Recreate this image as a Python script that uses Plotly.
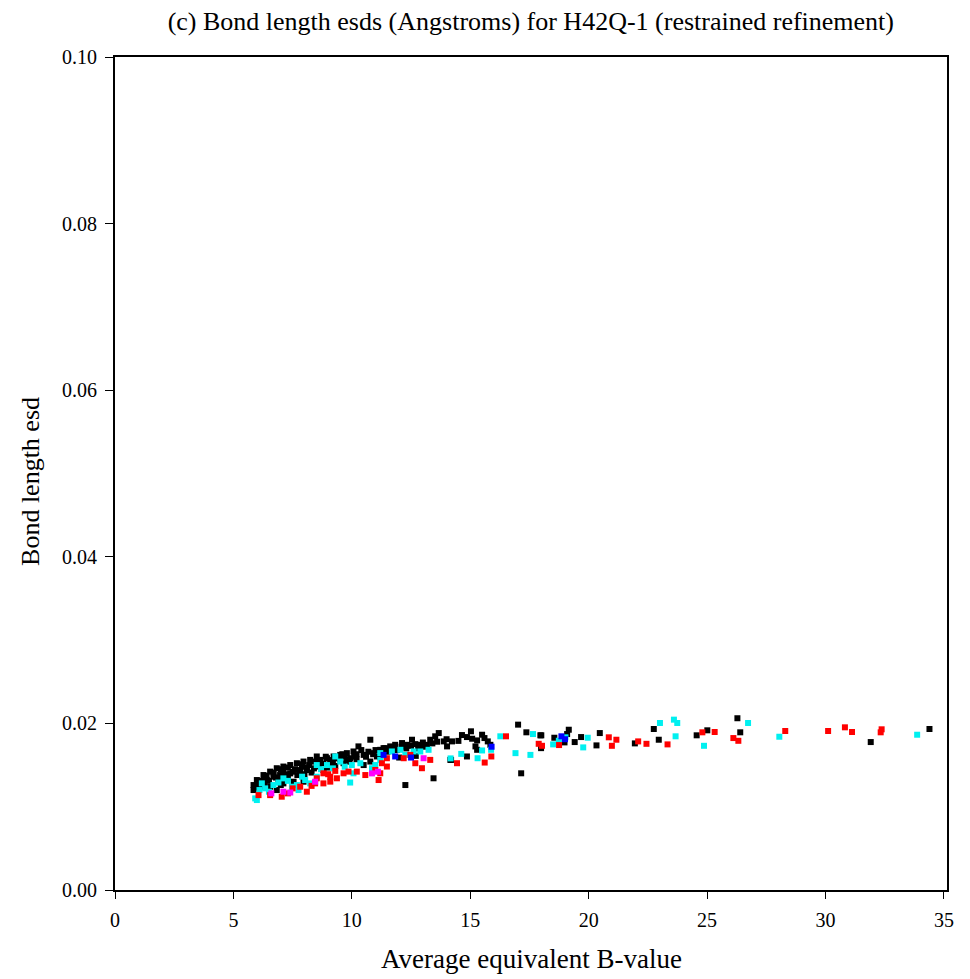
import plotly.graph_objects as go

black_x = [8.52, 8.24, 7.96, 7.68, 7.40, 7.11, 6.83, 6.55, 6.27, 5.99, 5.85, 5.85, 6.41, 6.69, 6.97, 7.40, 7.82, 8.10,
           6.13, 6.55, 7.11, 7.54, 7.96, 6.83, 6.0, 6.2, 6.4, 6.7, 7.0, 7.3, 7.6, 7.9, 8.2, 8.4, 6.9, 7.3, 7.7, 8.0, 8.3,
           6.3, 7.0,
           10.78, 10.28, 10.07, 9.79, 9.51, 9.23, 8.95, 8.66, 8.38, 11.34, 9.93, 10.50, 10.92, 11.06, 9.65, 9.09, 8.52,
           8.80, 10.50, 10.78, 8.8, 9.1, 9.4, 9.7, 10.2, 10.4, 10.7, 9.3, 9.9, 10.2, 11.0, 11.2, 8.6, 9.0, 8.9, 9.6,
           13.67, 13.52, 13.31, 13.17, 12.89, 12.54, 12.68, 12.33, 12.12, 11.83, 11.62, 11.41, 11.20, 13.88, 14.02,
           14.16, 12.26, 13.45, 11.5, 11.9, 12.3, 12.8, 13.0, 13.6, 12.0, 12.7,
           6.5, 6.8, 7.2, 7.5, 7.8, 8.1, 8.6, 9.2, 9.5, 9.8, 10.1, 10.6, 10.9, 11.3, 11.7, 12.1, 12.5, 13.0, 13.4,
           14.5, 14.0, 6.1, 5.9, 7.1, 7.9,
           14.23, 14.19, 14.65, 14.86, 15.08, 15.29, 15.50, 15.60, 15.74, 15.85, 15.22, 15.29, 15.03, 14.86, 17.02,
           17.37, 17.96, 17.99, 17.15,
           18.00, 18.55, 18.98, 19.16, 19.09, 19.41, 19.68, 20.33, 20.47, 21.95, 22.75, 22.96,
           24.56, 25.01, 26.28, 26.40, 31.91, 34.39]
black_y = [0.01603, 0.01562, 0.01542, 0.01522, 0.0150, 0.01482, 0.01462, 0.01421, 0.0138, 0.0132, 0.0126, 0.0120,
           0.0132, 0.0136, 0.0138, 0.0140, 0.0142, 0.0144, 0.0124, 0.0124, 0.0128, 0.0130, 0.0130, 0.0120, 0.0125,
           0.0131, 0.0137, 0.0141, 0.0145, 0.0147, 0.0145, 0.0148, 0.0150, 0.0146, 0.0133, 0.0136, 0.0138, 0.0139,
           0.0141, 0.0128, 0.0126,
           0.01804, 0.01724, 0.01663, 0.01643, 0.01622, 0.01603, 0.01582, 0.01562, 0.01542, 0.01703, 0.01582,
           0.01622, 0.01643, 0.01603, 0.01522, 0.01522, 0.01482, 0.01441, 0.0150, 0.01542, 0.0152, 0.0156, 0.0158,
           0.0160, 0.0163, 0.0168, 0.0166, 0.0149, 0.0154, 0.0157, 0.0168, 0.0160, 0.0151, 0.0147, 0.0160, 0.0163,
           0.01884, 0.01845, 0.01804, 0.01743, 0.01743, 0.01804, 0.01751, 0.01743, 0.01764, 0.01743, 0.01724,
           0.01703, 0.01683, 0.01784, 0.01724, 0.01562, 0.0126, 0.01341, 0.0166, 0.0168, 0.0170, 0.0170, 0.0177,
           0.0178, 0.0159, 0.0161,
           0.0131, 0.0135, 0.0139, 0.0142, 0.0144, 0.0147, 0.0155, 0.0155, 0.0157, 0.0156, 0.0160, 0.0160, 0.0163,
           0.0165, 0.0168, 0.0172, 0.0173, 0.0172, 0.0176, 0.0179, 0.0181, 0.0127, 0.0123, 0.0143, 0.0151,
           0.01784, 0.01562, 0.0186, 0.01836, 0.01816, 0.01796, 0.01864, 0.01824, 0.01784, 0.01743, 0.01724,
           0.01683, 0.01905, 0.01603, 0.01985, 0.01893, 0.01857, 0.01703, 0.01401,
           0.01857, 0.01828, 0.01772, 0.01924, 0.01872, 0.01776, 0.01836, 0.01736, 0.01884, 0.0176, 0.01933, 0.01804,
           0.01857, 0.01917, 0.02062, 0.01893, 0.01776, 0.01933]

cyan_x = [6.20, 6.34, 7.11, 7.47, 7.68, 7.75, 8.24, 8.03, 5.92, 6.69, 8.52, 5.99, 6.1, 6.9, 7.3, 7.9, 6.5,
          8.52, 8.95, 9.51, 10.0, 10.36, 10.85, 10.99, 10.07, 9.93, 11.2, 9.30, 8.7, 9.2, 9.7,
          11.20, 11.69, 12.05, 12.26, 12.61, 12.89, 13.24,
          14.17, 14.62, 15.31, 15.50, 15.88, 16.27, 16.91, 17.54, 17.65,
          18.50, 18.74, 19.02, 19.96, 19.77, 23.01, 23.60, 23.74, 23.67,
          24.87, 26.73, 28.05, 33.87]
cyan_y = [0.0128, 0.0122, 0.0134, 0.0124, 0.0126, 0.0120, 0.0128, 0.0132, 0.0110, 0.0126, 0.0136, 0.0108, 0.0120,
          0.0129, 0.0131, 0.0136, 0.0118,
          0.0150, 0.0150, 0.01542, 0.0150, 0.01522, 0.01462, 0.0150, 0.01401, 0.0129, 0.01562, 0.01603, 0.0145,
          0.0146, 0.0148,
          0.01643, 0.01663, 0.01683, 0.01622, 0.01663, 0.01663, 0.01683,
          0.0158, 0.01634, 0.01582, 0.01675, 0.01683, 0.01845, 0.01643, 0.01622, 0.01872,
          0.01748, 0.01792, 0.01833, 0.01828, 0.01712, 0.02005, 0.02045, 0.02005, 0.01845,
          0.01731, 0.02005, 0.0184, 0.01864]

red_x = [6.06, 6.55, 7.04, 7.82, 8.10, 8.45, 7.5, 8.3, 7.3,
         8.80, 9.09, 9.37, 9.65, 9.86, 8.80, 9.09, 8.52, 10.57, 10.99, 11.13, 11.48, 10.21, 9.0, 9.3,
         11.48, 11.27, 11.20, 12.19, 12.47, 12.68, 12.96, 13.31, 14.44,
         15.89, 15.61, 16.51, 17.89, 18.03,
         18.75, 20.85, 21.17, 20.98, 22.09, 22.44, 23.33,
         24.80, 25.32, 26.11, 26.32, 28.30, 30.11, 30.82, 31.12, 32.37, 32.33]
red_y = [0.01139, 0.01139, 0.0112, 0.0124, 0.0118, 0.0128, 0.0122, 0.0125, 0.0116,
         0.01401, 0.0136, 0.01341, 0.01401, 0.01421, 0.0128, 0.01301, 0.01341, 0.0138, 0.01441, 0.0132, 0.01482,
         0.01421, 0.0139, 0.0143,
         0.01582, 0.01522, 0.01401, 0.01582, 0.01622, 0.01522, 0.01462, 0.01562, 0.01522,
         0.01603, 0.0153, 0.01845, 0.01755, 0.01731,
         0.0174, 0.01833, 0.01804, 0.01731, 0.01784, 0.01755, 0.01748,
         0.01893, 0.01897, 0.01824, 0.01791, 0.01909, 0.01909, 0.01953, 0.01897, 0.01929, 0.01893]

magenta_x = [7.11, 7.4, 8.45, 10.85, 11.1, 13.03, 6.6]
magenta_y = [0.0118, 0.0117, 0.0130, 0.0140, 0.0142, 0.01582, 0.0116]

blue_x = [11.34, 11.83, 18.85, 15.9, 19.0, 12.5]
blue_y = [0.01622, 0.01603, 0.01845, 0.0172, 0.0181, 0.0159]

x_ticks = [0, 5, 10, 15, 20, 25, 30, 35]
y_ticks = [0.00, 0.02, 0.04, 0.06, 0.08, 0.10]

FONT = "Liberation Serif"

fig = go.Figure()
for xs, ys, col in [(black_x, black_y, "#000000"), (cyan_x, cyan_y, "#00f0f0"),
                    (red_x, red_y, "#ff0000"), (magenta_x, magenta_y, "#ff00ff"),
                    (blue_x, blue_y, "#0000ff")]:
    fig.add_trace(go.Scatter(x=xs, y=ys, mode="markers",
                             marker=dict(symbol="square", size=6, color=col, line=dict(width=0)),
                             showlegend=False, hoverinfo="skip"))

fig.update_layout(
    width=970, height=979,
    margin=dict(l=107, r=31, t=49, b=97),
    paper_bgcolor="white", plot_bgcolor="white",
    font=dict(family=FONT, color="black"),
    title=dict(text="(c) Bond length esds (Angstroms) for H42Q-1 (restrained refinement)",
               x=0.539, xanchor="center", xref="container",
               y=0.987, yanchor="middle", yref="container",
               font=dict(family=FONT, size=26, color="black")),
    annotations=[
        dict(text="Average equivalent B-value", xref="paper", yref="paper", x=0.5, y=-0.083,
             xanchor="center", yanchor="middle", showarrow=False, font=dict(family=FONT, size=27)),
        dict(text="Bond length esd", xref="paper", yref="paper", x=-0.101, y=0.491, textangle=-90,
             xanchor="center", yanchor="middle", showarrow=False, font=dict(family=FONT, size=26)),
    ],
)
fig.update_xaxes(range=[0, 35.13], tickvals=x_ticks, ticktext=[str(v) for v in x_ticks],
                 showgrid=False, zeroline=False, showline=True, linecolor="black", linewidth=2,
                 mirror=True, ticks="outside", ticklen=7, tickwidth=1, tickcolor="black",
                 tickfont=dict(family=FONT, size=20), ticklabelstandoff=4, automargin=False)
fig.update_yaxes(range=[0, 0.1], tickvals=y_ticks, ticktext=["%.2f" % v for v in y_ticks],
                 showgrid=False, zeroline=False, showline=True, linecolor="black", linewidth=2,
                 mirror=True, ticks="outside", ticklen=8, tickwidth=1, tickcolor="black",
                 tickfont=dict(family=FONT, size=20), ticklabelstandoff=4, automargin=False)

fig.write_html("out.html")
